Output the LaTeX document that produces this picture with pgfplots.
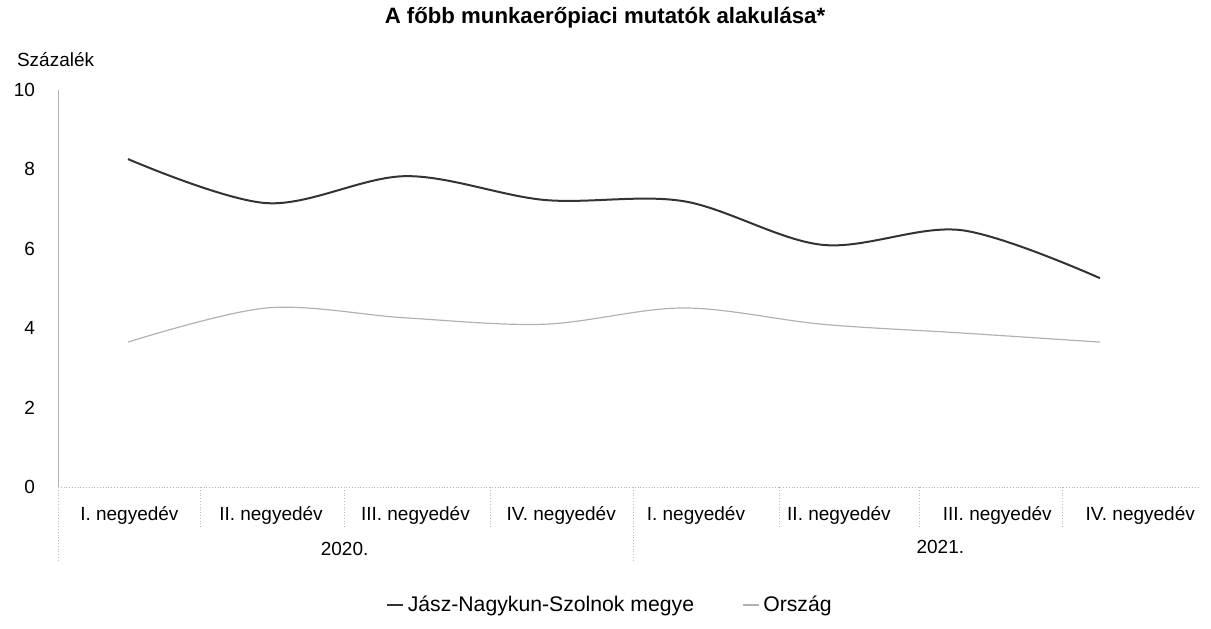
\documentclass[border=0pt]{standalone}
\usepackage{pgfplots}
\pgfplotsset{compat=1.18}
\usepackage{fontspec}
\setmainfont{Liberation Sans}
\begin{document}
\begin{tikzpicture}
\path[use as bounding box] (0pt,0pt) rectangle (605.5pt,314pt);
\node[font=\bfseries\fontsize{11.1}{13}\selectfont] at (302.5pt,305pt) {A főbb munkaerőpiaci mutatók alakulása*};
\node[anchor=west, font=\fontsize{9.5}{11}\selectfont] at (5pt,284pt) {Százalék};
\begin{axis}[at={(29pt,70.5pt)}, anchor=south west, scale only axis,
  width=571pt, height=198.5pt,
  xmin=-0.504, xmax=7.72, ymin=0, ymax=10,
  axis x line=bottom, axis y line=left,
  axis line style={-, gray!60},
  x axis line style={densely dotted},
  ytick={0,2,...,10}, major tick length=0pt,
  xtick={0.01,1.03,2.07,3.12,4.09,5.12,6.26,7.29},
  xticklabels={I. negyedév, II. negyedév, III. negyedév, IV. negyedév, I. negyedév, II. negyedév, III. negyedév, IV. negyedév},
  tick label style={font=\fontsize{9.5}{11}\selectfont},
  /pgf/number format/assume math mode=true,
  yticklabel style={xshift=-8pt},
  xticklabel style={yshift=-6pt},
  clip=false,
  legend style={at={(0.484,-0.297)}, anchor=center, draw=none, legend columns=2,
    font=\fontsize{10.6}{12}\selectfont,
    /tikz/every even column/.append style={column sep=22pt}},
  legend image code/.code={\draw[#1] (0pt,0pt) -- (8pt,0pt);},
]
\addplot[smooth, tension=0.55, color=black!80, line width=1pt] coordinates {
 (0,8.26) (1,7.15) (2,7.83) (3,7.23) (4,7.20) (5,6.10) (6,6.47) (7,5.26)};
\addlegendentry{Jász-Nagykun-Szolnok megye}
\addplot[smooth, tension=0.55, color=black!30, line width=0.6pt] coordinates {
 (0,3.65) (1,4.51) (2,4.26) (3,4.10) (4,4.51) (5,4.10) (6,3.88) (7,3.65)};
\addlegendentry{Ország}
\pgfplotsinvokeforeach{0.52,1.56,2.61,4.69,5.70,6.73}{
  \draw[gray!50, densely dotted] (axis cs:#1,0) -- ++(0pt,-20pt);
}
\pgfplotsinvokeforeach{-0.504,3.64}{
  \draw[gray!50, densely dotted] (axis cs:#1,0) -- ++(0pt,-36.5pt);
}
\node[font=\fontsize{9.5}{11}\selectfont] at (axis cs:1.56,0) [yshift=-31pt] {2020.};
\node[font=\fontsize{9.5}{11}\selectfont] at (axis cs:5.85,0) [yshift=-30pt] {2021.};
\end{axis}
\end{tikzpicture}
\end{document}
